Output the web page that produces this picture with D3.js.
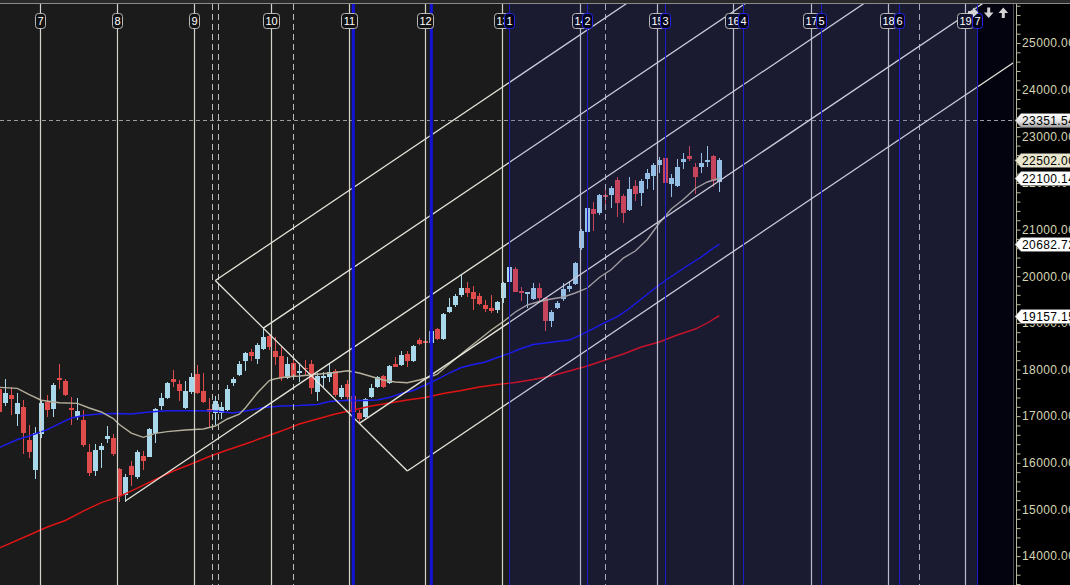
<!DOCTYPE html>
<html>
<head>
<meta charset="utf-8">
<script src="https://cdn.jsdelivr.net/npm/d3@7"></script>
<style>
body { margin: 0; background: #000; }
svg { display: block; }
</style>
</head>
<body>
<div id="chart"></div>
<script>
// weekly candles (index 0 = first visible bar)
var candleOpen = [17582,17288,17453,17046,17190,16488,15845,16617,17310,17160,17818,17760,17168,16988,16917,16231,15830,16274,16510,16525,
	15860,15309,15931,15702,16145,16130,16645,17217,17395,17796,17689,17174,17524,17903,17539,17147,17074,17067,17125,17717,
	17882,18182,18375,18225,18433,18718,18403,18289,17811,18133,17931,18039,18118,17524,17811,17846,17974,17417,17689,17432,
	17061,16975,17417,17631,17861,17704,18118,18096,18332,18189,18632,18617,18575,18862,18647,19233,19383,19597,19747,19662,
	19576,19383,19318,19276,19526,19882,20148,19683,19612,19511,19741,19526,19046,19325,19505,19719,19833,20598,20954,21435,
	21362,21741,21741,22063,21720,21420,21934,21791,22084,22149,22384,22528,21977,21941,22455,22577,22335,22335,22455,22577,22026];
var candleHigh = [17668,17790,17635,17502,17346,16810,16774,17346,17453,17717,18118,17790,17404,17383,17132,16403,16403,16431,16789,16617,
	15882,15759,16038,16274,16246,16739,17168,17496,17738,17989,17768,17764,17925,18096,17919,17389,17432,17310,17668,17846,
	18182,18375,18433,18568,18883,18740,18690,18489,18261,18240,18133,18204,18204,17919,17953,18118,18004,17668,17775,17453,
	17132,17383,17689,17861,17882,18096,18261,18403,18403,18525,18669,18632,18847,18890,19218,19526,19612,20026,19876,19790,
	19634,19490,19597,19475,19882,20219,20204,19769,19672,19848,19848,19548,19276,19475,19861,19882,20311,21006,21469,21598,
	21763,21863,21934,22121,21763,22121,22063,22078,22292,22434,22550,22545,22191,22507,22635,22792,22434,22635,22792,22599,22528];
var candleLow = [17024,17217,17024,16789,16188,16096,15652,16525,16988,16988,17575,17432,16810,16917,16332,15717,15717,15888,16431,16145,
	15166,15166,15502,15646,15845,16117,16431,17132,17361,17631,17331,17147,17475,17475,17288,16761,16810,16932,17110,17646,
	17861,17968,18182,18118,18418,18418,18096,17760,17790,17790,17738,17861,17475,17331,17631,17738,17417,17361,17346,17067,
	16881,16954,17383,17597,17603,17689,18047,18075,18047,18167,18525,18547,18568,18632,18632,19218,19333,19561,19561,19276,
	19383,19239,19218,19218,19432,19876,19655,19469,19329,19490,19475,18832,18918,19297,19475,19668,19811,20562,20776,20976,
	21312,21469,21469,21276,21135,21405,21619,21512,21863,21848,22219,21934,21705,21919,22292,22477,21763,22206,22348,21919,21812];
var candleClose = [17089,17507,17361,17288,16645,16238,16645,17288,17132,17668,17775,17453,17132,17110,16381,15774,16274,16360,16574,16188,
	15288,15689,15738,16225,16045,16718,17147,17383,17717,17738,17545,17539,17833,17507,17310,17082,17325,17202,17575,17790,
	18118,18347,18300,18525,18690,18476,18261,17811,18118,17861,17968,18004,17597,17861,17867,17940,17453,17610,17404,17095,
	16932,17361,17610,17833,17618,18075,18060,18311,18189,18504,18547,18562,18825,18647,19190,19333,19576,19747,19634,19505,
	19404,19297,19254,19447,19848,20191,19662,19634,19655,19741,19526,19046,19226,19432,19726,19797,20277,20976,21456,21334,
	21741,21705,21885,21563,21349,21863,21763,22041,22206,22384,22492,22005,22099,22335,22507,22520,22134,22421,22492,22048,22502];

// moving averages as [bar, value]
var grayMa = [[0,17618],[3,17595],[5,17464],[7,17342],[10,17288],[13,17275],[15,17175],[17,17089],[19,16949],[20,16821],
	[22,16638],[24,16546],[26,16632],[28,16669],[31,16703],[34,16724],[36,16789],[38,16939],[40,17041],[41,17175],
	[42,17335],[43,17496],[44,17631],[45,17764],[46,17801],[48,17846],[50,17861],[53,17897],[56,17936],[58,17972],
	[60,17925],[62,17850],[64,17775],[66,17732],[68,17717],[70,17775],[72,17850],[73,17903],[74,18011],[76,18225],
	[78,18440],[80,18643],[82,18847],[84,19025],[86,19233],[88,19383],[90,19458],[92,19511],[94,19554],[96,19640],
	[98,19747],[100,19972],[102,20144],[104,20390],[106,20541],[108,20787],[110,21141],[112,21441],[114,21645],[116,21881],
	[118,22020],[120,22100.14]];
var blueMa = [[0,16328],[3,16499],[5,16574],[8,16713],[10,16842],[12,16960],[14,17014],[17,17052],[20,17056],[22,17046],
	[25,17089],[28,17117],[33,17117],[36,17110],[39,17067],[42,17132],[44,17185],[47,17217],[50,17228],[53,17250],
	[55,17314],[58,17340],[61,17335],[63,17346],[65,17400],[67,17485],[69,17550],[71,17668],[73,17786],[75,17925],
	[77,18043],[79,18107],[81,18161],[83,18257],[85,18347],[87,18450],[89,18536],[91,18568],[93,18600],[95,18632],
	[97,18750],[99,18879],[101,19008],[103,19136],[105,19308],[107,19511],[109,19715],[111,19908],[113,20080],[115,20251],
	[117,20412],[119,20605],[120,20682.72]];
var redMa = [[0,14173],[5,14452],[8,14623],[11,14763],[14,14966],[17,15148],[20,15273],[23,15459],[26,15642],[29,15824],
	[32,15974],[35,16135],[38,16274],[41,16403],[44,16542],[47,16681],[50,16831],[53,16939],[56,17046],[59,17132],
	[62,17217],[65,17282],[68,17346],[71,17400],[74,17485],[77,17550],[80,17625],[83,17678],[86,17721],[89,17786],
	[92,17861],[95,17968],[98,18075],[101,18204],[104,18332],[107,18482],[110,18590],[113,18740],[116,18868],[118,18997],
	[120,19157.15]];

// pitchfork: pivot low, then the two reaction points, tines at fractions of the A-D line
var forkPivot = [21, 15180];
var forkA = [36, 19908];
var forkD = [68, 15824];
var forkTines = [0, 0.25, 0.75, 1];

// time markers (bar positions)
var quarterBars = [6.83, 19.67, 32.5, 45.33, 58.2, 71.0, 83.83, 96.73, 109.57, 122.33, 135.23, 148.07, 160.9];
var quarterLabels = ["7","8","9","10","11","12","13","14","15","16","17","18","19"];
var cycleBarsBold = [59, 72];
var cycleBars = [85, 98, 111, 124, 137, 150, 163];
var cycleLabels = ["1","2","3","4","5","6","7"];
var dashedBars = [35.5, 36.5, 49.0, 101.0, 153.3];

var hLevel = 23351.54;
var axisTicks = [14000,15000,16000,17000,18000,19000,20000,21000,22000,23000,24000,25000];
var priceTags = [
	{v: 23351.54, fill: "url(#tagGrad)"},
	{v: 22502.00, fill: "#e8e6cc"},
	{v: 22100.14, fill: "#ffffff"},
	{v: 20682.72, fill: "#ffffff"},
	{v: 19157.15, fill: "#ffffff"}
];

var width = 1070,
	height = 585,
	plotRight = 1013,
	plotTop = 4;

var x = d3.scaleLinear().domain([0, 169]).range([-0.7, 1013.3]);
var y = d3.scaleLinear().domain([13380, 25922]).range([height, 0]);

var svg = d3.select("#chart").append("svg")
	.attr("width", width)
	.attr("height", height)
	.style("font-family", "'Liberation Sans', Arial, sans-serif");

var defs = svg.append("defs");
defs.append("clipPath").attr("id", "plotClip")
	.append("rect").attr("x", 0).attr("y", plotTop).attr("width", plotRight).attr("height", height - plotTop);
var grad = defs.append("linearGradient").attr("id", "tagGrad")
	.attr("x1", 0).attr("y1", 0).attr("x2", 0).attr("y2", 1);
grad.append("stop").attr("offset", "0%").attr("stop-color", "#ffffff");
grad.append("stop").attr("offset", "55%").attr("stop-color", "#e4e4e4");
grad.append("stop").attr("offset", "100%").attr("stop-color", "#9a9a9a");

// backgrounds
svg.append("rect").attr("width", width).attr("height", height).attr("fill", "#000");
svg.append("rect").attr("x", 0).attr("y", 0).attr("width", width).attr("height", 3).attr("fill", "#2a2a2a");
svg.append("line").attr("x1", 0).attr("x2", width).attr("y1", 3.5).attr("y2", 3.5).attr("stroke", "#8a8a8a");
svg.append("rect").attr("x", 0).attr("y", plotTop).attr("width", x(cycleBars[cycleBars.length - 1]))
	.attr("height", height - plotTop).attr("fill", "#1b1b1b");
svg.append("rect").attr("x", x(cycleBars[cycleBars.length - 1])).attr("y", plotTop)
	.attr("width", plotRight - x(cycleBars[cycleBars.length - 1])).attr("height", height - plotTop).attr("fill", "#03030f");

var plot = svg.append("g").attr("clip-path", "url(#plotClip)");

var candles = candleOpen.map(function(o, i){
	return {i: i, o: o, h: candleHigh[i], l: candleLow[i], c: candleClose[i]};
});

// candles
var candleG = plot.append("g").attr("shape-rendering", "crispEdges");
candleG.selectAll("line")
	.data(candles)
	.enter()
	.append("line")
	.attr("x1", d => Math.floor(x(d.i)) + 0.5)
	.attr("x2", d => Math.floor(x(d.i)) + 0.5)
	.attr("y1", d => y(d.h))
	.attr("y2", d => y(d.l))
	.attr("stroke", d => d.c >= d.o ? "#a8d8ea" : "#e04c4c");
candleG.selectAll("rect")
	.data(candles)
	.enter()
	.append("rect")
	.attr("x", d => Math.floor(x(d.i)) - 2)
	.attr("width", 5)
	.attr("y", d => y(Math.max(d.o, d.c)))
	.attr("height", d => Math.max(1.5, Math.abs(y(d.o) - y(d.c))))
	.attr("fill", d => d.c >= d.o ? "#a8d8ea" : "#e04c4c");

// moving averages
var maLine = d3.line().x(d => x(d[0])).y(d => y(d[1]));
plot.append("path").datum(redMa).attr("d", maLine).attr("fill", "none").attr("stroke", "#e01414").attr("stroke-width", 1.4);
plot.append("path").datum(blueMa).attr("d", maLine).attr("fill", "none").attr("stroke", "#1c1cf0").attr("stroke-width", 1.4);
plot.append("path").datum(grayMa).attr("d", maLine).attr("fill", "none").attr("stroke", "#b4b09c").attr("stroke-width", 1.4);

// horizontal level
plot.append("line")
	.attr("x1", 0).attr("x2", plotRight)
	.attr("y1", Math.round(y(hLevel)) + 0.5).attr("y2", Math.round(y(hLevel)) + 0.5)
	.attr("stroke", "#9c9c9c").attr("stroke-dasharray", "4,3");

// vertical markers
var vx = b => Math.round(x(b)) + 0.5;
plot.selectAll(".qline").data(quarterBars).enter().append("line")
	.attr("class", "qline")
	.attr("x1", vx).attr("x2", vx).attr("y1", plotTop).attr("y2", height)
	.attr("stroke", "#d2d2ca").attr("stroke-width", 1.2);
plot.selectAll(".dline").data(dashedBars).enter().append("line")
	.attr("class", "dline")
	.attr("x1", vx).attr("x2", vx).attr("y1", plotTop).attr("y2", height)
	.attr("stroke", "#bdbdbd").attr("stroke-dasharray", "6,4");

// pitchfork
var dx = forkD[0] - forkA[0], dy = forkD[1] - forkA[1];
var mid = [forkA[0] + dx / 2, forkA[1] + dy / 2];
var slope = (mid[1] - forkPivot[1]) / (mid[0] - forkPivot[0]);
var farBar = 175;
var forkLines = [[forkA, forkD], [forkPivot, [farBar, forkPivot[1] + slope * (farBar - forkPivot[0])]]];
forkTines.forEach(function(t){
	var p = [forkA[0] + dx * t, forkA[1] + dy * t];
	forkLines.push([p, [farBar, p[1] + slope * (farBar - p[0])]]);
});
plot.selectAll(".fork").data(forkLines).enter().append("line")
	.attr("class", "fork")
	.attr("x1", d => x(d[0][0])).attr("y1", d => y(d[0][1]))
	.attr("x2", d => x(d[1][0])).attr("y2", d => y(d[1][1]))
	.attr("stroke", "#e6e6dc").attr("stroke-width", 1.3);

// cycle lines
plot.selectAll(".cbold").data(cycleBarsBold).enter().append("line")
	.attr("class", "cbold")
	.attr("x1", d => x(d)).attr("x2", d => x(d)).attr("y1", plotTop).attr("y2", height)
	.attr("stroke", "#1414d2").attr("stroke-width", 3.2);
plot.selectAll(".cline").data(cycleBars).enter().append("line")
	.attr("class", "cline")
	.attr("x1", vx).attr("x2", vx).attr("y1", plotTop).attr("y2", height)
	.attr("stroke", "#1e1ec8").attr("stroke-width", 1);

// tinted projection zone
plot.append("rect")
	.attr("x", x(cycleBars[0])).attr("y", plotTop)
	.attr("width", x(cycleBars[cycleBars.length - 1]) - x(cycleBars[0]))
	.attr("height", height - plotTop)
	.attr("fill", "rgba(20,20,200,0.13)");

// top labels
var labelG = svg.append("g").attr("font-size", 11);
quarterBars.forEach(function(b, k){
	var cx = vx(b), w = quarterLabels[k].length > 1 ? 16 : 10;
	labelG.append("rect")
		.attr("x", cx - w / 2).attr("y", 13.5).attr("width", w).attr("height", 15).attr("rx", 3)
		.attr("fill", cx > x(cycleBars[0]) ? "#12122a" : "#121212")
		.attr("stroke", "#b8b8b8");
	labelG.append("text")
		.attr("x", cx).attr("y", 25).attr("text-anchor", "middle")
		.attr("fill", "#ffffff").text(quarterLabels[k]);
});
cycleBars.forEach(function(b, k){
	var cx = vx(b);
	labelG.append("rect")
		.attr("x", cx - 5).attr("y", 13.5).attr("width", 10).attr("height", 15).attr("rx", 3)
		.attr("fill", "#05051a").attr("stroke", "#2424e6");
	labelG.append("text")
		.attr("x", cx).attr("y", 25).attr("text-anchor", "middle")
		.attr("fill", "#ffffff").text(cycleLabels[k]);
});

// navigation arrows
var arrows = svg.append("g").attr("fill", "#d4d4d4");
arrows.append("path").attr("d", "M968,11 h5 v-3.5 l5.5,5 l-5.5,5 v-3.5 h-5 z");
arrows.append("path").attr("d", "M987.2,7.5 h3 v5 h3.3 l-4.8,5.5 l-4.8,-5.5 h3.3 z");
arrows.append("path").attr("d", "M1001.8,18 h3 v-5 h3.3 l-4.8,-5.5 l-4.8,5.5 h3.3 z");

// price axis
var axisG = svg.append("g");
axisG.append("line").attr("x1", 1013.5).attr("x2", 1013.5).attr("y1", plotTop).attr("y2", height).attr("stroke", "#4a4a4a");
axisG.append("line").attr("x1", 1016.5).attr("x2", 1016.5).attr("y1", plotTop).attr("y2", height).attr("stroke", "#b8b8a0");
var yAxis = d3.axisRight(y)
	.tickValues(d3.range(13400, 25922, 200))
	.tickSize(4)
	.tickFormat(d => axisTicks.indexOf(d) >= 0 ? d3.format(".2f")(d) : "");
var ax = axisG.append("g")
	.attr("transform", "translate(1016.5,0)")
	.call(yAxis);
ax.select(".domain").remove();
ax.selectAll(".tick line").attr("stroke", "#b8b8a0");
ax.selectAll(".tick text")
	.attr("x", 5.5)
	.attr("fill", "#d6d6b4")
	.attr("font-size", 12)
	.attr("font-family", "'Liberation Sans', Arial, sans-serif")
	.style("letter-spacing", "0.4px");

// value tags
var tagG = svg.append("g");
priceTags.forEach(function(t){
	var ty = Math.round(y(t.v)) + 0.5;
	tagG.append("path")
		.attr("d", "M1015," + ty + " l6,-7 h50 v14 h-50 z")
		.attr("fill", t.fill).attr("stroke", "#707070").attr("stroke-width", 0.6);
	tagG.append("text")
		.attr("x", 1022).attr("y", ty + 4.5)
		.attr("font-size", 12).attr("fill", "#000")
		.style("letter-spacing", "0.4px")
		.text(d3.format(".2f")(t.v));
});
</script>
</body>
</html>
